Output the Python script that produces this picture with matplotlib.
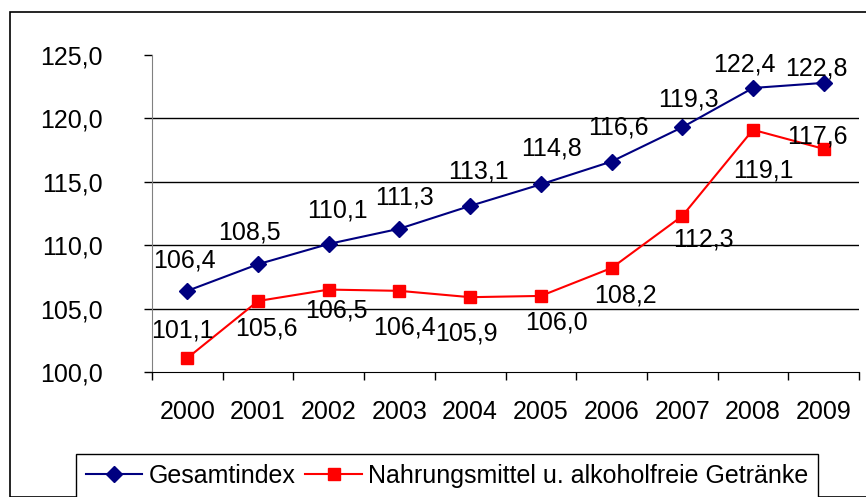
import matplotlib.pyplot as plt
from matplotlib.patches import Rectangle

plt.rcParams['font.family'] = ['Liberation Sans', 'DejaVu Sans']

years = ['2000', '2001', '2002', '2003', '2004', '2005', '2006', '2007', '2008', '2009']
gesamt = [106.4, 108.5, 110.1, 111.3, 113.1, 114.8, 116.6, 119.3, 122.4, 122.8]
nahrung = [101.1, 105.6, 106.5, 106.4, 105.9, 106.0, 108.2, 112.3, 119.1, 117.6]
names = ['Gesamtindex', 'Nahrungsmittel u. alkoholfreie Getränke']

# label offsets in pixels (dx, dy), positive dy = up
off_g = [(-3, 30), (-9, 32), (9, 33), (5, 31), (8, 34), (11, 36), (7, 34), (6, 28), (-9, 23), (-7, 14)]
off_n = [(-5, 28), (8, -28), (8, -21), (5, -37), (-4, -36), (16, -27), (14, -27), (21, -23), (10, -41), (-6, 12)]

W, H = 866, 497
fig = plt.figure(figsize=(W / 100, H / 100), dpi=100)
fs = 18

# outer frame
fig.patches.append(Rectangle((10 / W, 0), 1.0, 1 - 12 / H, transform=fig.transFigure,
                             fill=False, edgecolor='black', linewidth=1.2))

ax = fig.add_axes([152 / W, (H - 372) / H, (859 - 152) / W, (372 - 55) / H])
x = list(range(len(years)))

for v in [105, 110, 115, 120]:
    ax.axhline(v, color='black', linewidth=1.0, zorder=1)

ax.plot(x, gesamt, color='#000080', marker='D', markersize=8, linewidth=1.5, label=names[0], zorder=3)
ax.plot(x, nahrung, color='#ff0000', marker='s', markersize=8.5, linewidth=1.5, label=names[1], zorder=3)

for i in x:
    ax.annotate(f'{gesamt[i]:.1f}'.replace('.', ','), (i, gesamt[i]),
                xytext=(off_g[i][0] * 0.72, off_g[i][1] * 0.72), textcoords='offset points',
                ha='center', va='center', fontsize=fs, zorder=4)
    ax.annotate(f'{nahrung[i]:.1f}'.replace('.', ','), (i, nahrung[i]),
                xytext=(off_n[i][0] * 0.72, off_n[i][1] * 0.72), textcoords='offset points',
                ha='center', va='center', fontsize=fs, zorder=4)

ax.set_xlim(-0.5, 9.5)
ax.set_ylim(100, 125)
ax.set_yticks([100, 105, 110, 115, 120, 125])
ax.set_yticklabels([f'{v:.1f}'.replace('.', ',') for v in [100, 105, 110, 115, 120, 125]], fontsize=fs)
ax.set_xticks(x)
ax.set_xticklabels(years, fontsize=fs)
ax.set_xticks([i - 0.5 for i in range(11)], minor=True)
ax.tick_params(axis='x', which='major', length=0, pad=20)
ax.tick_params(axis='x', which='minor', length=6, width=1, color='black', direction='out')
ax.tick_params(axis='y', length=6, width=1, pad=29.5, color='black')

for s in ['top', 'right']:
    ax.spines[s].set_visible(False)
ax.spines['left'].set_color('#808080')
ax.spines['bottom'].set_color('black')

leg = fig.legend(loc='upper left', bbox_to_anchor=(76 / W, 1 - 454 / H), ncol=2, fontsize=fs,
                 frameon=True, fancybox=False, edgecolor='black', framealpha=1,
                 handlelength=2.25, handletextpad=0.25, columnspacing=0.4, borderpad=0.4,
                 borderaxespad=0)
leg.get_frame().set_linewidth(1.0)

fig.savefig('out.png', dpi=100)
